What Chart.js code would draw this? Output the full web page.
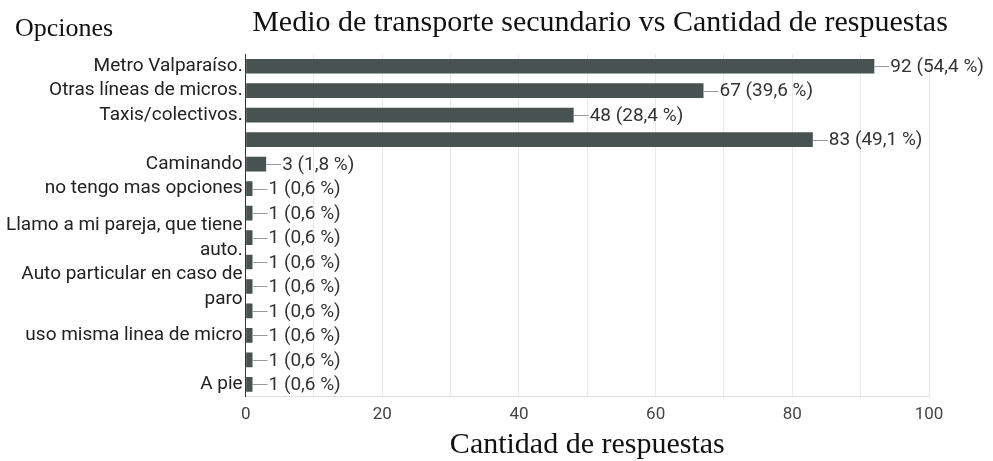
<!DOCTYPE html>
<html>
<head>
<meta charset="utf-8">
<script src="https://cdn.jsdelivr.net/npm/chart.js@4"></script>
<style>
html,body{margin:0;padding:0;background:#fff;}
#wrap{width:993px;height:461px;position:relative;}
</style>
</head>
<body>
<div id="wrap"><canvas id="c" width="993" height="461"></canvas></div>
<script>
const chartTitle = "Medio de transporte secundario vs Cantidad de respuestas";
const yAxisTitle = "Opciones";
const xAxisTitle = "Cantidad de respuestas";
const categories = [
  "Metro Valparaíso.",
  "Otras líneas de micros.",
  "Taxis/colectivos.",
  "",
  "Caminando",
  "no tengo mas opciones",
  "",
  ["Llamo a mi pareja, que tiene", "auto."],
  "",
  ["Auto particular en caso de", "paro"],
  "",
  "uso misma linea de micro",
  "",
  "A pie"
];
const counts = [92, 67, 48, 83, 3, 1, 1, 1, 1, 1, 1, 1, 1, 1];
const percents = ["54,4", "39,6", "28,4", "49,1", "1,8", "0,6", "0,6", "0,6", "0,6", "0,6", "0,6", "0,6", "0,6", "0,6"];
const xTicks = [0, 20, 40, 60, 80, 100];
const xGrid = [0, 10, 20, 30, 40, 50, 60, 70, 80, 90, 100];

const SANS = 'Roboto, "Liberation Sans", Arial, sans-serif';
const SERIF = '"Liberation Serif", "Times New Roman", serif';

const labelPlugin = {
  id: 'barLabels',
  afterDatasetsDraw(chart) {
    const ctx = chart.ctx;
    const meta = chart.getDatasetMeta(0);
    ctx.save();
    ctx.font = '19px ' + SANS;
    ctx.textBaseline = 'middle';
    ctx.textAlign = 'left';
    meta.data.forEach((bar, i) => {
      const x = bar.x, y = bar.y;
      ctx.strokeStyle = '#9a9a9a';
      ctx.lineWidth = 1;
      ctx.beginPath();
      ctx.moveTo(x, Math.round(y) + 0.5);
      ctx.lineTo(x + 15, Math.round(y) + 0.5);
      ctx.stroke();
      ctx.fillStyle = '#333333';
      ctx.fillText(counts[i] + ' (' + percents[i] + ' %)', x + 16, y + 1);
    });
    ctx.restore();
  }
};

const titlePlugin = {
  id: 'titles',
  afterDraw(chart) {
    const ctx = chart.ctx;
    ctx.save();
    ctx.fillStyle = '#111';
    ctx.textBaseline = 'alphabetic';
    ctx.textAlign = 'center';
    ctx.font = '30px ' + SERIF;
    ctx.fillText(chartTitle, 600, 31);
    ctx.textAlign = 'left';
    ctx.font = '26px ' + SERIF;
    ctx.fillText(yAxisTitle, 15, 36);
    ctx.restore();
  }
};

new Chart(document.getElementById('c'), {
  type: 'bar',
  data: {
    labels: categories,
    datasets: [{
      data: counts,
      backgroundColor: '#475251',
      borderWidth: 0,
      barPercentage: 0.6,
      categoryPercentage: 1.0
    }]
  },
  options: {
    indexAxis: 'y',
    responsive: false,
    animation: false,
    layout: { padding: { top: 54, left: 3, right: 64, bottom: 4 } },
    plugins: {
      legend: { display: false },
      tooltip: { enabled: false },
      title: { display: false }
    },
    scales: {
      x: {
        min: 0, max: 100,
        afterBuildTicks(axis) { axis.ticks = xGrid.map(v => ({ value: v })); },
        ticks: {
          color: '#444',
          font: { family: SANS, size: 17 },
          padding: 8,
          maxRotation: 0,
          autoSkip: false,
          callback: (v) => xTicks.includes(v) ? String(v) : ''
        },
        grid: { color: '#e8e8e8', drawTicks: false },
        border: { display: true, color: '#e0e0e0' },
        title: {
          display: true,
          text: xAxisTitle,
          color: '#111',
          font: { family: SERIF, size: 30, lineHeight: 0.8 },
          padding: { top: 0, bottom: 0 }
        }
      },
      y: {
        ticks: {
          color: '#222',
          font: { family: SANS, size: 19, lineHeight: 1.3 },
          padding: 3,
          autoSkip: false
        },
        grid: { display: false, drawTicks: false },
        border: { display: true, color: '#333', width: 1 }
      }
    }
  },
  plugins: [labelPlugin, titlePlugin]
});
</script>
</body>
</html>
